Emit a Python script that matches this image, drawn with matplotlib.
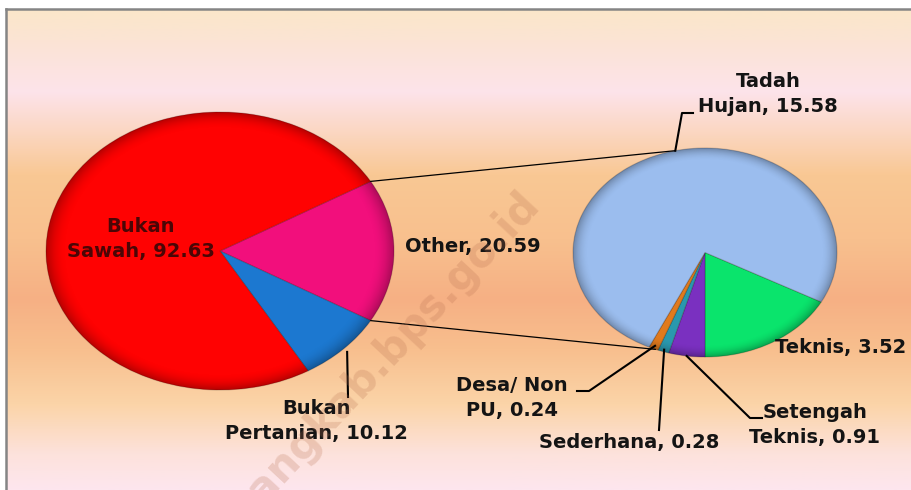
import numpy as np
import matplotlib
matplotlib.use("Agg")
import matplotlib.pyplot as plt
from matplotlib.colors import LinearSegmentedColormap
from matplotlib.lines import Line2D
from matplotlib.patches import ConnectionPatch

# ---------------- data ----------------
main_labels = ["Other", "Bukan\nPertanian", "Bukan\nSawah"]
main_values = [20.59, 10.12, 92.63]
main_colors = ["#f20f7c", "#1c78d0", "#ff0202"]

sub_labels = ["Teknis", "Setengah\nTeknis", "Sederhana", "Desa/ Non\nPU", "Tadah\nHujan"]
sub_values = [3.52, 0.91, 0.28, 0.24, 15.58]
sub_colors = ["#0ae46c", "#7a30c0", "#2a98ae", "#e07a1e", "#9bbdee"]

W, H = 912, 490
fig = plt.figure(figsize=(W / 100, H / 100), dpi=100)
fig.patch.set_facecolor("white")

def fx(px):
    return px / W

def fy(py):
    return 1 - py / H

# ---------------- background gradient ----------------
stops_y = [9, 40, 92, 135, 175, 240, 300, 350, 405, 455, 490]
stops_c = ["#fbe7c9", "#fbe4d4", "#fde3ea", "#fbd6bf", "#f9c894", "#f8c08e",
           "#f6b084", "#f8bf8e", "#fbd4a8", "#fde2dc", "#fde6ee"]
pos = [(y - 9) / (490 - 9) for y in stops_y]
cmap = LinearSegmentedColormap.from_list("bg", list(zip(pos, stops_c)))
bg = fig.add_axes([fx(6), 0, 1 - fx(6), fy(9)])
bg.imshow(np.linspace(0, 1, 256)[:, None], aspect="auto", cmap=cmap,
          extent=[0, 1, 0, 1], origin="upper")
bg.axis("off")

# border
fig.add_artist(Line2D([fx(6), fx(6)], [0, fy(9)], transform=fig.transFigure,
                      color="#858585", lw=1.8))
fig.add_artist(Line2D([fx(6), 1], [fy(9), fy(9)], transform=fig.transFigure,
                      color="#858585", lw=1.8))

# ---------------- pies ----------------
def add_pie(cx, cy, rx, ry, values, colors, startangle):
    ax = fig.add_axes([fx(cx - rx), fy(cy + ry), 2 * rx / W, 2 * ry / H])
    wedges, _ = ax.pie(values, colors=colors, startangle=startangle,
                       counterclock=False, radius=1,
                       wedgeprops=dict(edgecolor="#00000030", linewidth=0.8))
    ax.set_aspect("auto")
    ax.set_xlim(-1, 1)
    ax.set_ylim(-1, 1)
    ax.axis("off")
    # subtle bevel shading at the rim
    n = 300
    xx, yy = np.meshgrid(np.linspace(-1, 1, n), np.linspace(-1, 1, n))
    r = np.sqrt(xx ** 2 + yy ** 2)
    shade = np.zeros((n, n, 4))
    a = np.clip((r - 0.88) / 0.12, 0, 1) ** 2 * 0.28
    shade[..., 3] = a
    im = ax.imshow(shade, extent=[-1, 1, -1, 1], origin="lower", zorder=3,
                   aspect="auto")
    circ = plt.Circle((0, 0), 1.0, transform=ax.transData)
    im.set_clip_path(circ)
    ax.set_xlim(-1, 1)
    ax.set_ylim(-1, 1)
    return ax, wedges

main_total = sum(main_values)
main_start = 360 * main_values[0] / main_total / 2
ax1, w1 = add_pie(220, 251, 174, 139, main_values, main_colors, main_start)

sub_total = sum(sub_values)
sub_start = -90 + 360 * sub_values[0] / sub_total
ax2, w2 = add_pie(705, 252.5, 132, 104.5, sub_values, sub_colors, sub_start)

def pt(ax, ang, r=1.0):
    a = np.deg2rad(ang)
    return (r * np.cos(a), r * np.sin(a))

def to_fig(ax, p):
    return fig.transFigure.inverted().transform(ax.transData.transform(p))

# connection lines (pie of pie)
w_other = w1[0]
for a1, a2 in [(w_other.theta2, 103), (w_other.theta1, -112)]:
    con = ConnectionPatch(xyA=pt(ax1, a1), coordsA=ax1.transData,
                          xyB=pt(ax2, a2), coordsB=ax2.transData,
                          color="black", lw=0.9)
    fig.add_artist(con)

# ---------------- labels ----------------
FONT = "DejaVu Sans"
FS = 14
TXT = "#141414"

def label(px, py, s, color=TXT, ha="center"):
    fig.text(fx(px), fy(py), s, ha=ha, va="center", fontsize=FS,
             fontweight="bold", family=FONT, color=color,
             linespacing=1.42, zorder=10)

def leader(ax, wedge, r, pts_px):
    mid = (wedge.theta1 + wedge.theta2) / 2
    p0 = to_fig(ax, pt(ax, mid, r))
    xs = [p0[0]] + [fx(p[0]) for p in pts_px]
    ys = [p0[1]] + [fy(p[1]) for p in pts_px]
    fig.add_artist(Line2D(xs, ys, transform=fig.transFigure, color="black",
                          lw=1.5, zorder=9))

lab_main = [f"{l}, {v:.2f}" for l, v in zip(main_labels, main_values)]
lab_sub = [f"{l}, {v:.2f}" for l, v in zip(sub_labels, sub_values)]

# main pie
label(473, 246, lab_main[0])                       # Other
label(316, 421, lab_main[1])                       # Bukan Pertanian
leader(ax1, w1[1], 1.03, [(348, 397)])
label(141, 239, lab_main[2], color="#4a0606")      # Bukan Sawah

# second pie
label(841, 348, lab_sub[0])                        # Teknis
label(815, 425, lab_sub[1])                        # Setengah Teknis
leader(ax2, w2[1], 1.0, [(750, 418), (762, 418)])
label(629, 442, lab_sub[2])                        # Sederhana
leader(ax2, w2[2], 0.98, [(659, 430)])
label(512, 398, lab_sub[3])                        # Desa / Non PU
leader(ax2, w2[3], 0.97, [(589, 391), (577, 391)])
label(768, 94, lab_sub[4])                         # Tadah Hujan
fig.add_artist(Line2D([to_fig(ax2, pt(ax2, 103))[0], fx(682), fx(693)],
                      [to_fig(ax2, pt(ax2, 103))[1], fy(113), fy(113)],
                      transform=fig.transFigure, color="black", lw=1.5, zorder=9))

# watermark
fig.text(fx(533), fy(198), "sintangkab.bps.go.id", rotation=47,
         rotation_mode="anchor", ha="right", va="center", fontsize=30,
         fontweight="bold", family="DejaVu Sans", color="#b87050",
         alpha=0.24, zorder=20)

fig.savefig("out.png", dpi=100)
